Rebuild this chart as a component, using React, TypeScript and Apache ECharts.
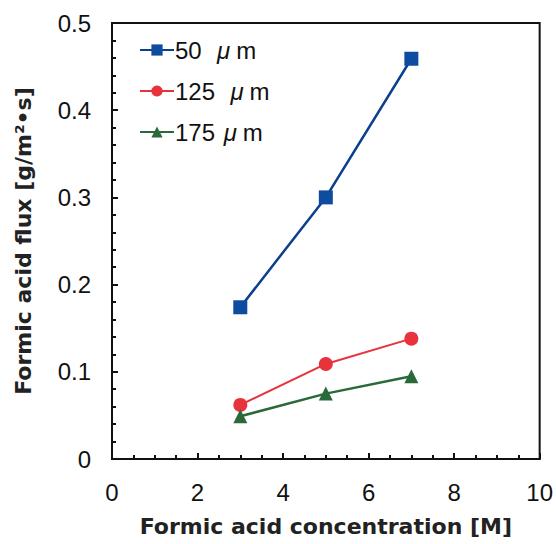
import React, { useEffect, useRef } from "react";
import * as echarts from "echarts";

const concentrations = [3, 5, 7];
const flux50 = [0.174, 0.3, 0.459];
const flux125 = [0.062, 0.109, 0.138];
const flux175 = [0.049, 0.075, 0.095];
const seriesNames = ["50  \u03bcm", "125  \u03bcm", "175 \u03bcm"];

const pair = (ys: number[]) => concentrations.map((x, i) => [x, ys[i]]);

export default function App() {
  const ref = useRef<HTMLDivElement>(null);
  useEffect(() => {
    if (!ref.current) return;
    const chart = echarts.init(ref.current, undefined, { renderer: "svg" });
    const font = "Liberation Sans, Arial, sans-serif";
    const titleFont = "DejaVu Sans, sans-serif";
    chart.setOption({
      animation: false,
      backgroundColor: "#fff",
      grid: {
        left: 112,
        top: 23,
        right: 13,
        bottom: 85,
        show: true,
        borderColor: "#111",
        borderWidth: 2,
      },
      legend: {
        orient: "vertical",
        left: 134,
        top: 33,
        itemWidth: 34,
        itemHeight: 14,
        itemGap: 17,
        formatter: (n: string) => n.replace("\u03bc", "{mu|\u03bc}"),
        textStyle: {
          fontFamily: font,
          fontSize: 24,
          color: "#111",
          padding: [0, 0, 0, -4],
          rich: {
            mu: { fontFamily: font, fontSize: 24, fontStyle: "italic", color: "#111", padding: [0, 6, 0, 2] },
          },
        },
        data: seriesNames,
      },
      xAxis: {
        type: "value",
        min: 0,
        max: 10,
        interval: 2,
        name: "Formic acid concentration [M]",
        nameLocation: "middle",
        nameGap: 56,
        nameTextStyle: { fontFamily: titleFont, fontSize: 22, fontWeight: "bold", color: "#222" },
        axisLine: { lineStyle: { color: "#111", width: 2 } },
        axisTick: { show: true, inside: true, length: 6, lineStyle: { color: "#111", width: 2 } },
        minorTick: { show: true, splitNumber: 4, length: 4, lineStyle: { color: "#111", width: 2 } },
        axisLabel: { fontFamily: font, fontSize: 24, color: "#111", margin: 21 },
        splitLine: { show: false },
      },
      yAxis: {
        type: "value",
        min: 0,
        max: 0.5,
        interval: 0.1,
        name: "Formic acid flux [g/m\u00b2\u2022s]",
        nameLocation: "middle",
        nameRotate: 90,
        nameGap: 78,
        nameTextStyle: { fontFamily: titleFont, fontSize: 22, fontWeight: "bold", color: "#222" },
        axisLine: { lineStyle: { color: "#111", width: 2 } },
        axisTick: { show: true, inside: true, length: 6, lineStyle: { color: "#111", width: 2 } },
        minorTick: { show: true, splitNumber: 5, length: 4, lineStyle: { color: "#111", width: 2 } },
        axisLabel: {
          fontFamily: font,
          fontSize: 24,
          color: "#111",
          margin: 21,
          formatter: (v: number) => (v === 0 ? "0" : v.toFixed(1)),
        },
        splitLine: { show: false },
      },
      series: [
        {
          name: seriesNames[0],
          type: "line",
          data: pair(flux50),
          symbol: "rect",
          symbolSize: 14,
          color: "#0d4c9e",
          lineStyle: { width: 2.5, color: "#0d3f8f" },
          itemStyle: { color: "#0d4c9e" },
        },
        {
          name: seriesNames[1],
          type: "line",
          data: pair(flux125),
          symbol: "circle",
          symbolSize: 14,
          color: "#e8323c",
          lineStyle: { width: 2, color: "#e8323c" },
          itemStyle: { color: "#e8323c" },
        },
        {
          name: seriesNames[2],
          type: "line",
          data: pair(flux175),
          symbol: "triangle",
          symbolSize: 14,
          color: "#2a6a3a",
          lineStyle: { width: 2.5, color: "#2a6a3a" },
          itemStyle: { color: "#2a6a3a" },
        },
      ],
    });
    return () => chart.dispose();
  }, []);
  return <div ref={ref} style={{ width: 556, height: 544, position: "absolute", left: 0, top: 0 }} />;
}
